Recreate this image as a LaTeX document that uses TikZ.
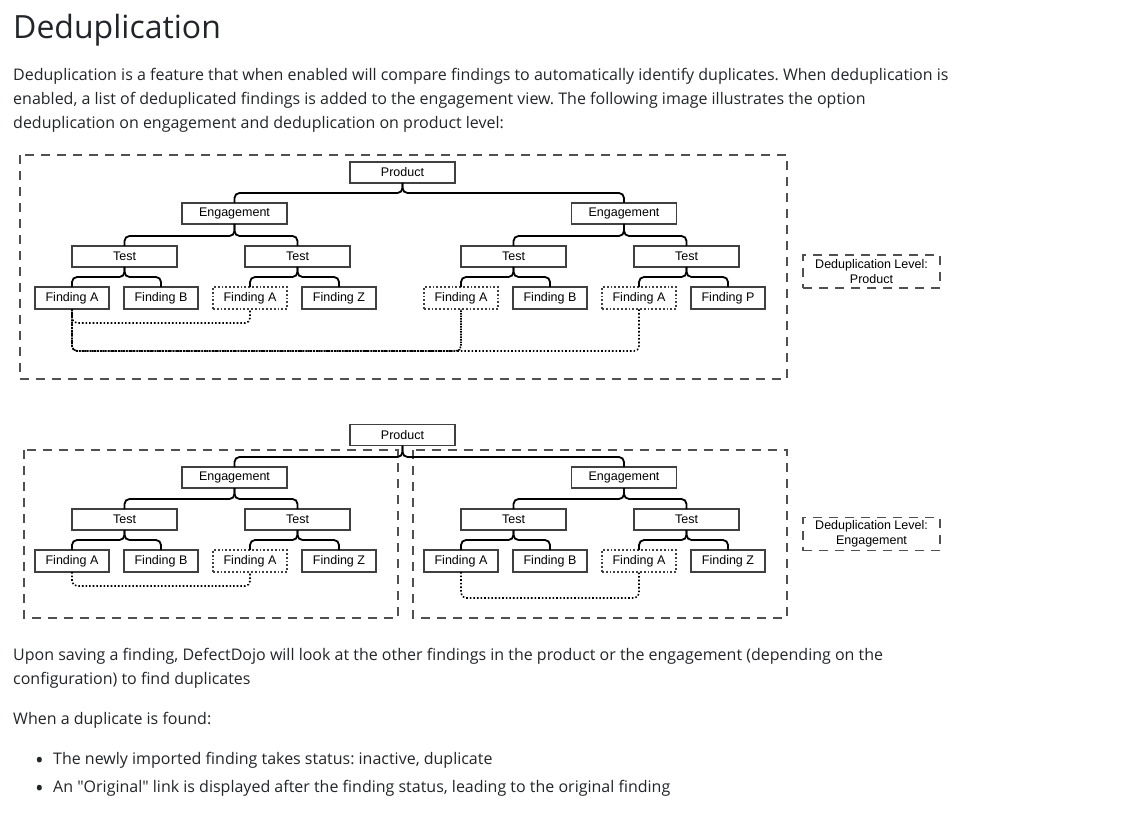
\documentclass[tikz,border=0pt]{standalone}
\usepackage{fontspec}
\setmainfont{Open Sans}
\newfontfamily\diagfont{Liberation Sans}
\usetikzlibrary{positioning}

\definecolor{pagetext}{HTML}{212529}
\definecolor{boxline}{HTML}{404040}
\definecolor{frameline}{HTML}{505050}

\newcommand{\itemdot}{\makebox[18pt][l]{\raisebox{-4.5pt}{\fontsize{23}{23}\selectfont •}}}

\tikzset{
	box/.style={draw=boxline, line width=1.8pt, fill=white, minimum width=105pt, minimum height=21pt, inner sep=0pt, outer sep=0pt, font=\diagfont\fontsize{12.5}{14}\selectfont},
	finding/.style={box, minimum width=74pt, minimum height=22pt},
	dupfinding/.style={finding, dotted},
	tree/.style={draw=black, line width=1.8pt, rounded corners=5pt, to path={(\tikztostart.north) -- ++(0,-10) -| (\tikztotarget.south)}},
	dup/.style={draw=black, line width=1.6pt, dotted, rounded corners=5pt},
	frame/.style={draw=frameline, line width=1.6pt, dash pattern=on 9pt off 7pt},
	level/.style={frame, minimum width=137pt, minimum height=33pt, inner sep=0pt, align=center, font=\diagfont\fontsize{12.5}{14.5}\selectfont},
	pagetxt/.style={anchor=north west, inner sep=0pt, align=left, text=pagetext, font=\fontsize{16}{24}\selectfont\frenchspacing}
}

\begin{document}
\begin{tikzpicture}[x=1pt, y=-1pt]
	\useasboundingbox (0,0) rectangle (1129,818);

	% page text
	\node[pagetxt, font=\fontsize{32}{38}\selectfont] (Title) at (13,14) {Deduplication};
	\node[pagetxt] (Intro) at (13,68) {Deduplication is a feature that when enabled will compare findings to automatically identify duplicates. When deduplication is\\enabled, a list of deduplicated findings is added to the engagement view. The following image illustrates the option\\deduplication on engagement and deduplication on product level:};
	\node[pagetxt] (Saving) at (13,648) {Upon saving a finding, DefectDojo will look at the other findings in the product or the engagement (depending on the\\configuration) to find duplicates};
	\node[pagetxt] (Found) at (13,712) {When a duplicate is found:};
	\node[pagetxt] (ItemStatus) at (35,752) {\itemdot The newly imported finding takes status: inactive, duplicate};
	\node[pagetxt] (ItemLink) at (35,780) {\itemdot An \textquotedbl Original\textquotedbl{} link is displayed after the finding status, leading to the original finding};

	% product level
	\draw[frame] (20,155) rectangle (787,379);
	\node[box] (TopProduct) at (402.5,172.5) {Product};
	\node[box] (TopEngagementL) at (234.5,213.5) {Engagement} edge[tree] (TopProduct);
	\node[box] (TopEngagementR) at (624,213.5) {Engagement} edge[tree] (TopProduct);

	\node[box] (TopTestLL) at (124.5,256.5) {Test} edge[tree] (TopEngagementL);
	\node[box] (TopTestLR) [right=68pt of TopTestLL] {Test} edge[tree] (TopEngagementL);
	\node[box] (TopTestRL) at (513.5,256.5) {Test} edge[tree] (TopEngagementR);
	\node[box] (TopTestRR) [right=68pt of TopTestRL] {Test} edge[tree] (TopEngagementR);

	\node[finding] (TopFindingA) at (72,298) {Finding A} edge[tree] (TopTestLL);
	\node[finding] (TopFindingB) [right=15pt of TopFindingA] {Finding B} edge[tree] (TopTestLL);
	\node[dupfinding] (TopFindingA2) [right=15pt of TopFindingB] {Finding A} edge[tree] (TopTestLR);
	\node[finding] (TopFindingZ) [right=15pt of TopFindingA2] {Finding Z} edge[tree] (TopTestLR);
	\node[dupfinding] (TopFindingA3) at (461,298) {Finding A} edge[tree] (TopTestRL);
	\node[finding] (TopFindingB2) [right=15pt of TopFindingA3] {Finding B} edge[tree] (TopTestRL);
	\node[dupfinding] (TopFindingA4) [right=15pt of TopFindingB2] {Finding A} edge[tree] (TopTestRR);
	\node[finding] (TopFindingP) [right=15pt of TopFindingA4] {Finding P} edge[tree] (TopTestRR);

	\draw[dup] (TopFindingA.south) -- ++(0,14) -| (TopFindingA2.south);
	\draw[dup, densely dotted] (TopFindingA.south) -- ++(0,42) -| (TopFindingA3.south);
	\draw[dup] (TopFindingA.south) -- ++(0,42) -| (TopFindingA4.south);

	\node[level] (TopLevel) at (871.5,271.5) {Deduplication Level:\\Product};

	% engagement level
	\draw[frame] (24,450) rectangle (398,618);
	\draw[frame] (413,450) rectangle (787,618);
	\node[box] (BotProduct) at (402.5,435) {Product};
	\node[box] (BotEngagementL) at (234.5,477.5) {Engagement} edge[tree] (BotProduct);
	\node[box] (BotEngagementR) at (624,477.5) {Engagement} edge[tree] (BotProduct);

	\node[box] (BotTestLL) at (124.5,519.5) {Test} edge[tree] (BotEngagementL);
	\node[box] (BotTestLR) [right=68pt of BotTestLL] {Test} edge[tree] (BotEngagementL);
	\node[box] (BotTestRL) at (513.5,519.5) {Test} edge[tree] (BotEngagementR);
	\node[box] (BotTestRR) [right=68pt of BotTestRL] {Test} edge[tree] (BotEngagementR);

	\node[finding] (BotFindingA) at (72,561) {Finding A} edge[tree] (BotTestLL);
	\node[finding] (BotFindingB) [right=15pt of BotFindingA] {Finding B} edge[tree] (BotTestLL);
	\node[dupfinding] (BotFindingA2) [right=15pt of BotFindingB] {Finding A} edge[tree] (BotTestLR);
	\node[finding] (BotFindingZ) [right=15pt of BotFindingA2] {Finding Z} edge[tree] (BotTestLR);
	\node[finding] (BotFindingA3) at (461,561) {Finding A} edge[tree] (BotTestRL);
	\node[finding] (BotFindingB2) [right=15pt of BotFindingA3] {Finding B} edge[tree] (BotTestRL);
	\node[dupfinding] (BotFindingA4) [right=15pt of BotFindingB2] {Finding A} edge[tree] (BotTestRR);
	\node[finding] (BotFindingZ2) [right=15pt of BotFindingA4] {Finding Z} edge[tree] (BotTestRR);

	\draw[dup] (BotFindingA.south) -- ++(0,14) -| (BotFindingA2.south);
	\draw[dup] (BotFindingA3.south) -- ++(0,26) -| (BotFindingA4.south);

	\node[level] (BotLevel) at (871.5,534) {Deduplication Level:\\Engagement};
\end{tikzpicture}
\end{document}
